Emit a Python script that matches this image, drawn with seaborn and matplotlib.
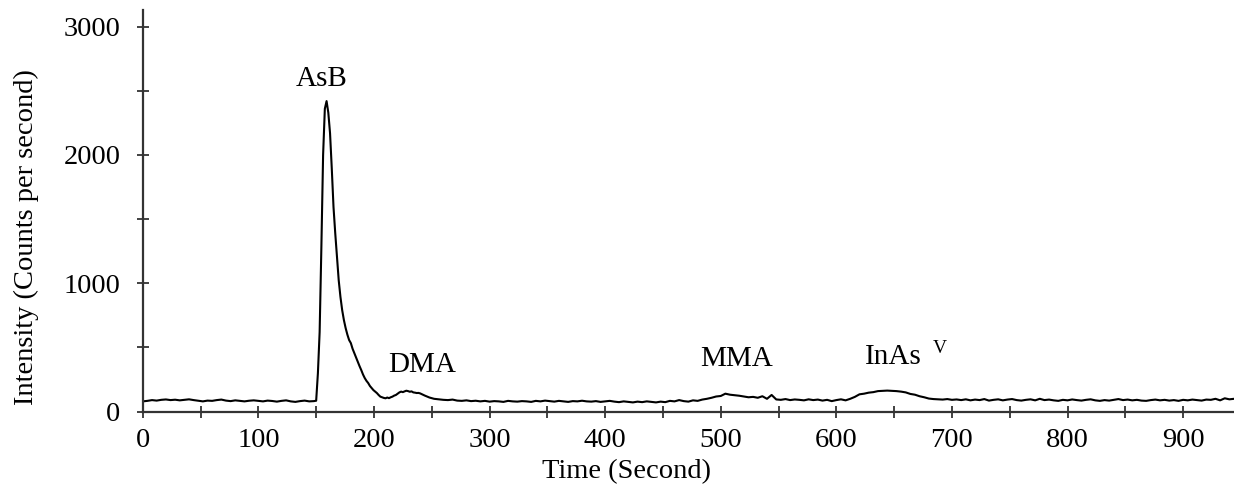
import pandas as pd
import matplotlib.pyplot as plt
import seaborn as sns
import numpy as np
from matplotlib.ticker import MultipleLocator

# baseline before the AsB peak, 4 s sampling from 0 s
i_pre = [80, 84, 90, 86, 92, 95, 90, 93, 88, 92, 96, 90, 85, 80, 86, 84, 90, 94, 86,
         82, 88, 84, 80, 85, 88, 84, 80, 86, 83, 78, 84, 88, 80, 76, 82, 86, 80, 82]

# AsB peak and DMA shoulder, 1.5 s sampling from 150 s
i_peak = [85, 300, 620, 1280, 2000, 2360, 2420, 2330, 2170, 1895, 1594, 1390, 1205,
          1024, 894, 791, 713, 651, 600, 558, 534, 490, 456, 420, 389, 355, 324, 290,
          262, 240, 223, 200, 184, 168, 156, 145, 130, 117, 112, 107, 104, 110, 105,
          112, 117, 125, 130, 140, 150, 156, 152, 158, 163, 160, 155, 158, 150, 148,
          145, 146]

# rest of the run (MMA, InAs V), 4 s sampling from 240 s
i_post = [142, 125, 110, 100, 96, 92, 90, 94, 86, 84, 88, 82, 85, 80, 84, 78, 82, 80,
          76, 84, 80, 78, 82, 80, 76, 84, 80, 86, 82, 78, 84, 80, 76, 82, 80, 85, 80,
          78, 82, 76, 80, 84, 78, 74, 80, 76, 72, 78, 74, 80, 76, 72, 78, 74, 84, 80,
          90, 82, 78, 88, 84, 94, 100, 108, 118, 122, 140, 132, 128, 124, 118, 112,
          115, 108, 120, 100, 130, 95, 92, 98, 90, 95, 92, 88, 96, 90, 94, 86, 92, 82,
          90, 96, 88, 100, 115, 135, 140, 148, 152, 160, 162, 164, 162, 160, 156, 150,
          138, 132, 120, 112, 102, 98, 96, 94, 98, 92, 95, 90, 96, 88, 94, 90, 98, 86,
          92, 96, 88, 94, 98, 90, 86, 92, 96, 88, 100, 90, 94, 88, 84, 92, 88, 95, 90,
          86, 92, 96, 88, 84, 90, 86, 92, 98, 90, 94, 88, 92, 86, 84, 90, 94, 88, 92,
          86, 90, 84, 92, 88, 94, 90, 86, 94, 92, 100, 88, 104, 96, 100]

t_pre = 4 * np.arange(len(i_pre))
t_peak = 150 + 1.5 * np.arange(len(i_peak))
t_post = 240 + 4 * np.arange(len(i_post))

df = pd.DataFrame({
    'time': np.concatenate([t_pre, t_peak, t_post]),
    'intensity': i_pre + i_peak + i_post,
})

sns.set_style('ticks')
plt.rcParams['font.family'] = ['Liberation Serif', 'DejaVu Serif']
plt.rcParams['text.color'] = 'black'
plt.rcParams['axes.labelcolor'] = 'black'
plt.rcParams['xtick.labelcolor'] = 'black'
plt.rcParams['ytick.labelcolor'] = 'black'

fig = plt.figure(figsize=(12.34, 4.86), dpi=100)
ax = fig.add_axes([0.1157, 0.153, 0.8843, 0.8265])

sns.lineplot(data=df, x='time', y='intensity', color='black', linewidth=1.5,
             estimator=None, sort=False, ax=ax)

ax.set_xlim(0, 944)
ax.set_ylim(0, 3130)
ax.xaxis.set_major_locator(MultipleLocator(100))
ax.xaxis.set_minor_locator(MultipleLocator(50))
ax.yaxis.set_major_locator(MultipleLocator(1000))
ax.yaxis.set_minor_locator(MultipleLocator(500))
ax.tick_params(which='both', direction='inout', length=8, width=1.3, color='#333333')
ax.tick_params(axis='x', which='major', labelsize=20.5, pad=8)
ax.tick_params(axis='y', which='major', labelsize=20.5, pad=12)

for side in ['top', 'right']:
    ax.spines[side].set_visible(False)
for side in ['left', 'bottom']:
    ax.spines[side].set_linewidth(1.6)
    ax.spines[side].set_color('#333333')

ax.set_xlabel('Time (Second)', fontsize=20.5)
ax.set_ylabel('Intensity (Counts per second)', fontsize=20.5)
ax.xaxis.set_label_coords(0.443, -0.118)
ax.yaxis.set_label_coords(-0.095, 0.435)

ax.text(155, 2590, 'AsB', fontsize=21, ha='center', va='center')
ax.text(242, 363, 'DMA', fontsize=21, ha='center', va='center')
ax.text(514, 410, 'MMA', fontsize=21, ha='center', va='center')
ax.text(625, 424, 'InAs', fontsize=21, ha='left', va='center')
ax.text(683, 490, 'V', fontsize=14, ha='left', va='center')

plt.savefig('out.png', dpi=100)
